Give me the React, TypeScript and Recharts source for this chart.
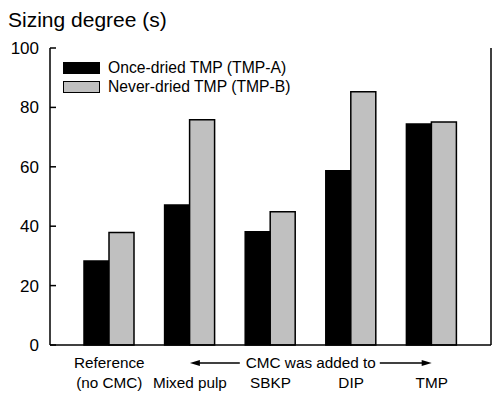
import React from "react";
import { BarChart, Bar, XAxis, YAxis, Legend } from "recharts";

const categories = ["Reference", "Mixed pulp", "SBKP", "DIP", "TMP"];
const topLabels = ["Reference", "", "", "", ""];
const bottomLabels = ["(no CMC)", "Mixed pulp", "SBKP", "DIP", "TMP"];
const onceDried = [28.3, 47.1, 38.1, 58.7, 74.4];
const neverDried = [37.9, 75.8, 44.9, 85.3, 75.1];
const seriesNames = ["Once-dried TMP (TMP-A)", "Never-dried TMP (TMP-B)"];
const yTicks = [0, 20, 40, 60, 80, 100];
const annotation = "CMC was added to";
const title = "Sizing degree (s)";

const data = categories.map((c, i) => ({
  name: c,
  a: onceDried[i],
  b: neverDried[i],
}));

const W = 492;
const H = 394;
const LEFT = 50;
const RIGHT_W = 1;
const TOP = 48;
const XAXIS_H = 49;
const PAD = 19;
const PLOT_W = W - LEFT - RIGHT_W;
const BAND = (PLOT_W - PAD * 2) / categories.length;
const FONT = "'Liberation Sans', Arial, Helvetica, sans-serif";

const XTick = (props: any) => {
  const { x, y, index } = props;
  const elems: any[] = [];
  if (topLabels[index]) {
    elems.push(
      <text key="t" x={x} y={y + 15} textAnchor="middle" fontSize={15.3} fill="#000" fontFamily={FONT}>
        {topLabels[index]}
      </text>
    );
  }
  elems.push(
    <text key="b" x={x} y={y + 35} textAnchor="middle" fontSize={15.3} fill="#000" fontFamily={FONT}>
      {bottomLabels[index]}
    </text>
  );
  if (index === 1) {
    const x0 = x;
    const x1 = x + BAND * 3;
    const mid = (x0 + x1) / 2;
    const ay = y + 10;
    const halfText = 68;
    elems.push(
      <g key="arrow">
        <line x1={x0 + 8} y1={ay} x2={mid - halfText - 3} y2={ay} stroke="#000" strokeWidth={1.3} />
        <polygon points={`${x0},${ay} ${x0 + 10},${ay - 3} ${x0 + 10},${ay + 3}`} fill="#000" />
        <line x1={mid + halfText + 1} y1={ay} x2={x1 - 8} y2={ay} stroke="#000" strokeWidth={1.3} />
        <polygon points={`${x1},${ay} ${x1 - 10},${ay - 3} ${x1 - 10},${ay + 3}`} fill="#000" />
        <text x={mid} y={y + 15} textAnchor="middle" fontSize={15.3} fill="#000" fontFamily={FONT}>
          {annotation}
        </text>
      </g>
    );
  }
  return <g>{elems}</g>;
};

const LegendContent = () => {
  const fills = ["#000000", "#c0c0c0"];
  return (
    <div style={{ fontFamily: FONT, fontSize: 15.7, color: "#000" }}>
      {seriesNames.map((n, i) => (
        <div key={n} style={{ display: "flex", alignItems: "center", height: 19 }}>
          <div
            style={{
              width: 35,
              height: 10,
              background: fills[i],
              border: "1px solid #000",
              marginRight: 8,
            }}
          />
          <span style={{ lineHeight: "19px", whiteSpace: "nowrap" }}>{n}</span>
        </div>
      ))}
    </div>
  );
};

export default function App() {
  return (
    <div style={{ position: "absolute", left: 0, top: 0, width: W, height: H, background: "#fff" }}>
      <div
        style={{
          position: "absolute",
          left: 8,
          top: 8,
          fontFamily: FONT,
          fontSize: 21,
          color: "#000",
          lineHeight: "24px",
          whiteSpace: "nowrap",
        }}
      >
        {title}
      </div>
      <BarChart
        width={W}
        height={H}
        data={data}
        margin={{ top: TOP, right: 0, left: 0, bottom: 0 }}
        barSize={25}
        barGap={0}
      >
        <XAxis
          dataKey="name"
          xAxisId={0}
          height={XAXIS_H}
          tickLine={false}
          interval={0}
          padding={{ left: PAD, right: PAD }}
          axisLine={{ stroke: "#000", strokeWidth: 1.5 }}
          tick={<XTick />}
        />
        <XAxis
          dataKey="name"
          xAxisId="top"
          orientation="top"
          height={0}
          tick={false}
          tickLine={false}
          padding={{ left: PAD, right: PAD }}
          axisLine={{ stroke: "#000", strokeWidth: 1.5 }}
        />
        <YAxis
          yAxisId={0}
          width={LEFT}
          domain={[0, 100]}
          ticks={yTicks}
          tickSize={-6}
          tickMargin={17}
          axisLine={{ stroke: "#000", strokeWidth: 1.5 }}
          tickLine={{ stroke: "#000", strokeWidth: 1.5 }}
          tick={{ fontSize: 17, fill: "#000", fontFamily: FONT }}
        />
        <YAxis
          yAxisId="r"
          orientation="right"
          width={RIGHT_W}
          domain={[0, 100]}
          ticks={yTicks}
          tickSize={-6}
          axisLine={{ stroke: "#000", strokeWidth: 1.5 }}
          tickLine={{ stroke: "#000", strokeWidth: 1.5 }}
          tick={() => <g />}
        />
        <Legend
          layout="vertical"
          align="center"
          verticalAlign="middle"
          wrapperStyle={{ left: 63, top: 58, width: 260, height: 40 }}
          content={<LegendContent />}
        />
        <Bar
          dataKey="a"
          name={seriesNames[0]}
          fill="#000000"
          stroke="#000"
          strokeWidth={1.5}
          isAnimationActive={false}
        />
        <Bar
          dataKey="b"
          name={seriesNames[1]}
          fill="#c0c0c0"
          stroke="#000"
          strokeWidth={1.5}
          isAnimationActive={false}
        />
      </BarChart>
    </div>
  );
}
